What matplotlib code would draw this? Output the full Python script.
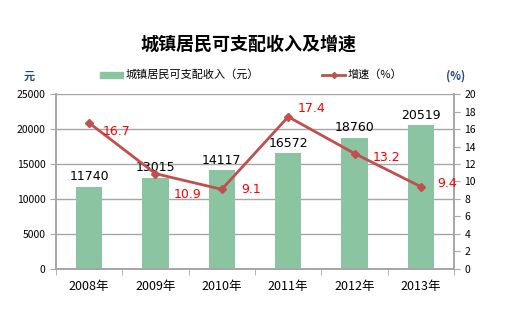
import matplotlib.pyplot as plt
import numpy as np

plt.rcParams['font.family'] = ['Noto Sans CJK SC', 'DejaVu Sans']

# 数据
years = ['2008年', '2009年', '2010年', '2011年', '2012年', '2013年']
income = [11740, 13015, 14117, 16572, 18760, 20519]
growth = [16.7, 10.9, 9.1, 17.4, 13.2, 9.4]

bar_color = '#8BC4A0'
line_color = '#C0504D'
grid_color = '#A6A6A6'

fig = plt.figure(figsize=(5.08, 3.3), dpi=100)
ax = fig.add_axes([0.110, 0.185, 0.784, 0.530])
ax2 = ax.twinx()

x = np.arange(len(years))
ax.bar(x, income, width=0.4, color=bar_color, zorder=2)
ax.set_xlim(-0.5, len(years) - 0.5)
ax.set_ylim(0, 25000)
ax.set_yticks(range(0, 25001, 5000))
ax.yaxis.grid(True, color=grid_color, linewidth=1, zorder=0)
ax.set_axisbelow(True)

# 柱子数值标签
for xi, v in zip(x, income):
    ax.text(xi, v + 500, str(v), ha='center', va='bottom', fontsize=9, color='black',
            family=['DejaVu Sans'])

ax2.plot(x, growth, color=line_color, linewidth=2, marker='D', markersize=4, zorder=3)
ax2.set_ylim(0, 20)
ax2.set_yticks(range(0, 21, 2))
# 增速标签偏移 (dx 类别单位, dy 百分点)
offsets = [(0.2, -1.0), (0.27, -2.4), (0.29, 0.0), (0.14, 1.0), (0.27, -0.5), (0.24, 0.4)]
for xi, v, (dx, dy) in zip(x, growth, offsets):
    ax2.text(xi + dx, v + dy, str(v), ha='left', va='center', fontsize=9, color='red',
             family=['DejaVu Sans'])

# 坐标轴样式
ax.set_xticks(x)
ax.set_xticklabels(years, fontsize=9)
ax.set_xticks(np.arange(-0.5, len(years)), minor=True)
ax.tick_params(axis='x', which='major', length=0, pad=8)
ax.tick_params(axis='x', which='minor', length=4, color=grid_color, direction='out')
ax.tick_params(axis='y', labelsize=7.5, length=4, color=grid_color, direction='out')
ax2.tick_params(axis='y', labelsize=7.5, length=4, color=grid_color, direction='out')
for a in (ax, ax2):
    a.spines['top'].set_visible(False)
    for s in ('left', 'right', 'bottom'):
        a.spines[s].set_color(grid_color)
        a.spines[s].set_linewidth(1.2)

# 标题与单位
fig.text(0.49, 0.865, '城镇居民可支配收入及增速', ha='center', va='center',
         fontsize=13, fontweight='bold')
fig.text(0.058, 0.77, '元', ha='center', va='center', fontsize=8, fontweight='bold',
         color='#1F497D')
fig.text(0.896, 0.77, '(%)', ha='center', va='center', fontsize=8, fontweight='bold',
         color='#1F497D')

# 图例
fig.patches.append(plt.Rectangle((0.197, 0.765), 0.045, 0.016, transform=fig.transFigure,
                                 color=bar_color))
fig.text(0.247, 0.773, '城镇居民可支配收入（元）', ha='left', va='center', fontsize=8)
fig.lines.append(plt.Line2D([0.634, 0.68], [0.773, 0.773], transform=fig.transFigure,
                            color=line_color, linewidth=2))
fig.lines.append(plt.Line2D([0.657], [0.773], transform=fig.transFigure,
                            color=line_color, marker='D', markersize=3))
fig.text(0.684, 0.773, '增速（%）', ha='left', va='center', fontsize=8)

fig.savefig('out.png', dpi=100)
